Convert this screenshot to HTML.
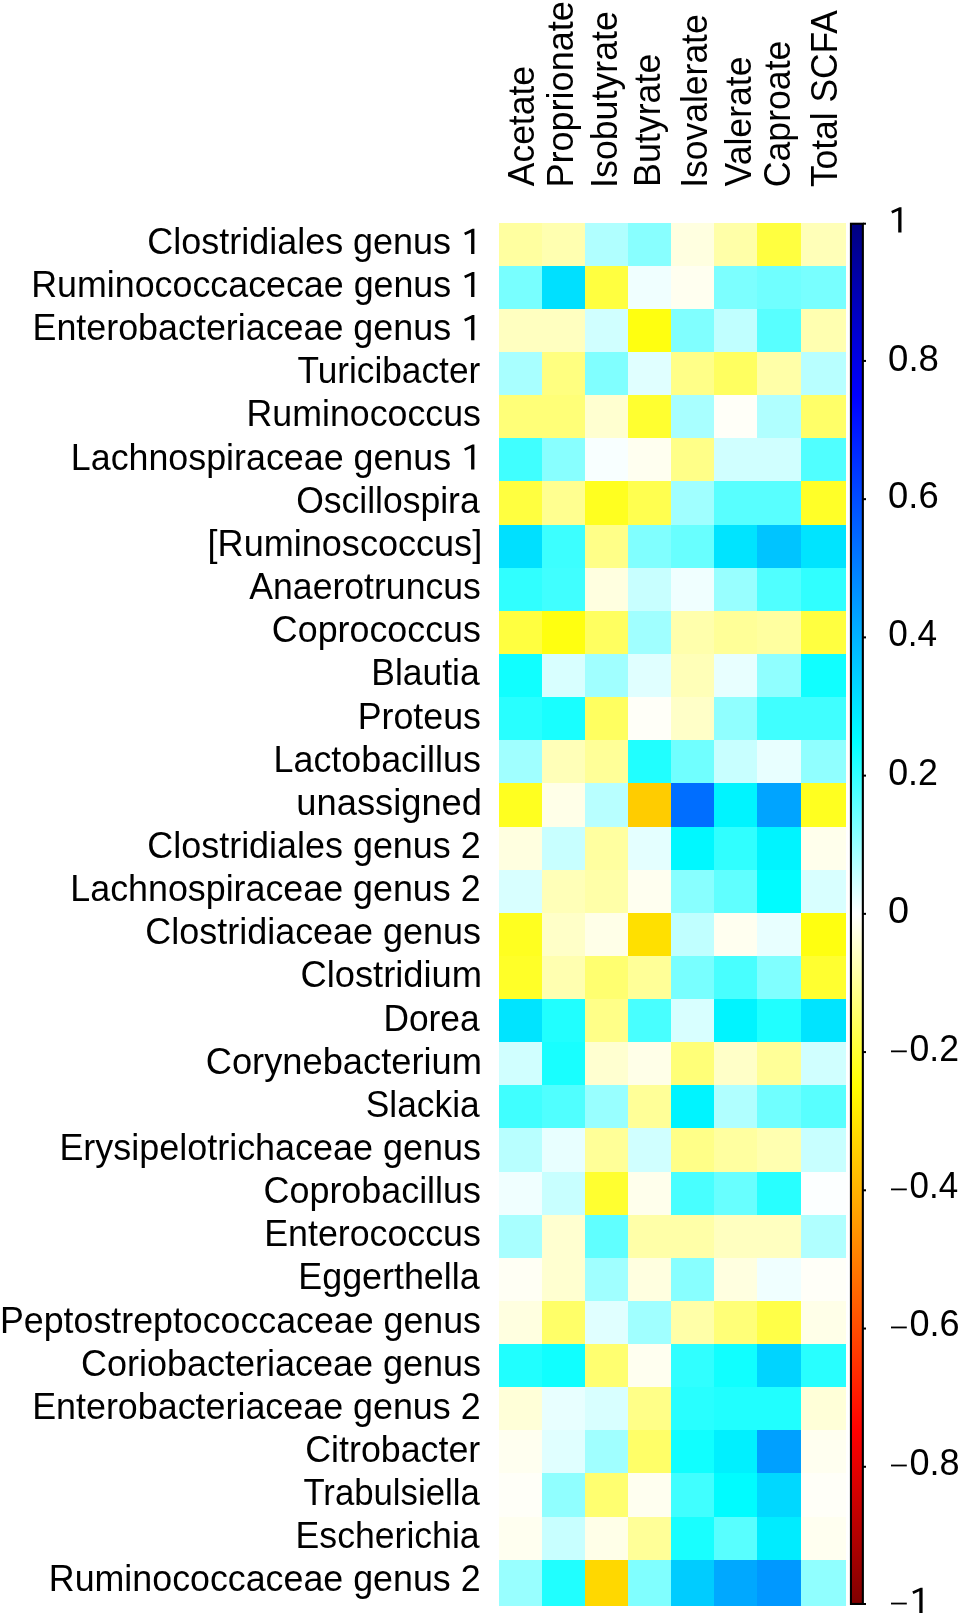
<!DOCTYPE html>
<html><head><meta charset="utf-8"><style>
html,body{margin:0;padding:0;background:#fff;}
body{width:961px;height:1617px;overflow:hidden;}
svg{display:block;will-change:transform;}
text{font-family:"Liberation Sans",sans-serif;fill:#000;}
</style></head><body>
<svg width="961" height="1617" viewBox="0 0 961 1617">
<defs><linearGradient id="cb" x1="0" y1="0" x2="0" y2="1">
<stop offset="0" stop-color="#000080"/><stop offset="0.125" stop-color="#0000FF"/>
<stop offset="0.375" stop-color="#00FFFF"/><stop offset="0.5" stop-color="#FFFFFF"/>
<stop offset="0.625" stop-color="#FFFF00"/><stop offset="0.875" stop-color="#FF0000"/>
<stop offset="1" stop-color="#800000"/></linearGradient></defs>

<g shape-rendering="crispEdges">
<rect x="498.70" y="222.70" width="43.13" height="43.13" fill="#FFFFA0"/>
<rect x="541.83" y="222.70" width="43.13" height="43.13" fill="#FFFFB0"/>
<rect x="584.96" y="222.70" width="43.13" height="43.13" fill="#B0FFFF"/>
<rect x="628.09" y="222.70" width="43.13" height="43.13" fill="#88FFFF"/>
<rect x="671.22" y="222.70" width="43.13" height="43.13" fill="#FFFFE0"/>
<rect x="714.35" y="222.70" width="43.13" height="43.13" fill="#FFFFA8"/>
<rect x="757.48" y="222.70" width="43.13" height="43.13" fill="#FFFF40"/>
<rect x="800.61" y="222.70" width="45.59" height="43.13" fill="#FFFFB8"/>
<rect x="498.70" y="265.83" width="43.13" height="43.13" fill="#78FFFF"/>
<rect x="541.83" y="265.83" width="43.13" height="43.13" fill="#00E0FF"/>
<rect x="584.96" y="265.83" width="43.13" height="43.13" fill="#FFFF40"/>
<rect x="628.09" y="265.83" width="43.13" height="43.13" fill="#F0FFFF"/>
<rect x="671.22" y="265.83" width="43.13" height="43.13" fill="#FFFFF0"/>
<rect x="714.35" y="265.83" width="43.13" height="43.13" fill="#7CFFFF"/>
<rect x="757.48" y="265.83" width="43.13" height="43.13" fill="#70FFFF"/>
<rect x="800.61" y="265.83" width="45.59" height="43.13" fill="#78FFFF"/>
<rect x="498.70" y="308.96" width="43.13" height="43.13" fill="#FFFFC0"/>
<rect x="541.83" y="308.96" width="43.13" height="43.13" fill="#FFFFC0"/>
<rect x="584.96" y="308.96" width="43.13" height="43.13" fill="#D0FFFF"/>
<rect x="628.09" y="308.96" width="43.13" height="43.13" fill="#FFFF10"/>
<rect x="671.22" y="308.96" width="43.13" height="43.13" fill="#80FFFF"/>
<rect x="714.35" y="308.96" width="43.13" height="43.13" fill="#C0FFFF"/>
<rect x="757.48" y="308.96" width="43.13" height="43.13" fill="#58FFFF"/>
<rect x="800.61" y="308.96" width="45.59" height="43.13" fill="#FFFFB0"/>
<rect x="498.70" y="352.09" width="43.13" height="43.13" fill="#A8FFFF"/>
<rect x="541.83" y="352.09" width="43.13" height="43.13" fill="#FFFF80"/>
<rect x="584.96" y="352.09" width="43.13" height="43.13" fill="#80FFFF"/>
<rect x="628.09" y="352.09" width="43.13" height="43.13" fill="#E0FFFF"/>
<rect x="671.22" y="352.09" width="43.13" height="43.13" fill="#FFFF88"/>
<rect x="714.35" y="352.09" width="43.13" height="43.13" fill="#FFFF60"/>
<rect x="757.48" y="352.09" width="43.13" height="43.13" fill="#FFFFA8"/>
<rect x="800.61" y="352.09" width="45.59" height="43.13" fill="#B8FFFF"/>
<rect x="498.70" y="395.22" width="43.13" height="43.13" fill="#FFFF78"/>
<rect x="541.83" y="395.22" width="43.13" height="43.13" fill="#FFFF78"/>
<rect x="584.96" y="395.22" width="43.13" height="43.13" fill="#FFFFD0"/>
<rect x="628.09" y="395.22" width="43.13" height="43.13" fill="#FFFF30"/>
<rect x="671.22" y="395.22" width="43.13" height="43.13" fill="#A8FFFF"/>
<rect x="714.35" y="395.22" width="43.13" height="43.13" fill="#FFFFF8"/>
<rect x="757.48" y="395.22" width="43.13" height="43.13" fill="#B0FFFF"/>
<rect x="800.61" y="395.22" width="45.59" height="43.13" fill="#FFFF68"/>
<rect x="498.70" y="438.35" width="43.13" height="43.13" fill="#40FFFF"/>
<rect x="541.83" y="438.35" width="43.13" height="43.13" fill="#88FFFF"/>
<rect x="584.96" y="438.35" width="43.13" height="43.13" fill="#F8FFFF"/>
<rect x="628.09" y="438.35" width="43.13" height="43.13" fill="#FFFFF0"/>
<rect x="671.22" y="438.35" width="43.13" height="43.13" fill="#FFFF88"/>
<rect x="714.35" y="438.35" width="43.13" height="43.13" fill="#D0FFFF"/>
<rect x="757.48" y="438.35" width="43.13" height="43.13" fill="#D0FFFF"/>
<rect x="800.61" y="438.35" width="45.59" height="43.13" fill="#50FFFF"/>
<rect x="498.70" y="481.48" width="43.13" height="43.13" fill="#FFFF40"/>
<rect x="541.83" y="481.48" width="43.13" height="43.13" fill="#FFFF90"/>
<rect x="584.96" y="481.48" width="43.13" height="43.13" fill="#FFFF20"/>
<rect x="628.09" y="481.48" width="43.13" height="43.13" fill="#FFFF50"/>
<rect x="671.22" y="481.48" width="43.13" height="43.13" fill="#A0FFFF"/>
<rect x="714.35" y="481.48" width="43.13" height="43.13" fill="#58FFFF"/>
<rect x="757.48" y="481.48" width="43.13" height="43.13" fill="#58FFFF"/>
<rect x="800.61" y="481.48" width="45.59" height="43.13" fill="#FFFF28"/>
<rect x="498.70" y="524.61" width="43.13" height="43.13" fill="#00E0FF"/>
<rect x="541.83" y="524.61" width="43.13" height="43.13" fill="#3CFFFF"/>
<rect x="584.96" y="524.61" width="43.13" height="43.13" fill="#FFFF88"/>
<rect x="628.09" y="524.61" width="43.13" height="43.13" fill="#80FFFF"/>
<rect x="671.22" y="524.61" width="43.13" height="43.13" fill="#68FFFF"/>
<rect x="714.35" y="524.61" width="43.13" height="43.13" fill="#00E4FF"/>
<rect x="757.48" y="524.61" width="43.13" height="43.13" fill="#00C4FF"/>
<rect x="800.61" y="524.61" width="45.59" height="43.13" fill="#00E4FF"/>
<rect x="498.70" y="567.74" width="43.13" height="43.13" fill="#30FFFF"/>
<rect x="541.83" y="567.74" width="43.13" height="43.13" fill="#40FFFF"/>
<rect x="584.96" y="567.74" width="43.13" height="43.13" fill="#FFFFE0"/>
<rect x="628.09" y="567.74" width="43.13" height="43.13" fill="#C8FFFF"/>
<rect x="671.22" y="567.74" width="43.13" height="43.13" fill="#F0FFFF"/>
<rect x="714.35" y="567.74" width="43.13" height="43.13" fill="#98FFFF"/>
<rect x="757.48" y="567.74" width="43.13" height="43.13" fill="#50FFFF"/>
<rect x="800.61" y="567.74" width="45.59" height="43.13" fill="#30FFFF"/>
<rect x="498.70" y="610.87" width="43.13" height="43.13" fill="#FFFF40"/>
<rect x="541.83" y="610.87" width="43.13" height="43.13" fill="#FFFF10"/>
<rect x="584.96" y="610.87" width="43.13" height="43.13" fill="#FFFF60"/>
<rect x="628.09" y="610.87" width="43.13" height="43.13" fill="#A0FFFF"/>
<rect x="671.22" y="610.87" width="43.13" height="43.13" fill="#FFFFAC"/>
<rect x="714.35" y="610.87" width="43.13" height="43.13" fill="#FFFF98"/>
<rect x="757.48" y="610.87" width="43.13" height="43.13" fill="#FFFFA0"/>
<rect x="800.61" y="610.87" width="45.59" height="43.13" fill="#FFFF40"/>
<rect x="498.70" y="654.00" width="43.13" height="43.13" fill="#10FFFF"/>
<rect x="541.83" y="654.00" width="43.13" height="43.13" fill="#D8FFFF"/>
<rect x="584.96" y="654.00" width="43.13" height="43.13" fill="#A0FFFF"/>
<rect x="628.09" y="654.00" width="43.13" height="43.13" fill="#E0FFFF"/>
<rect x="671.22" y="654.00" width="43.13" height="43.13" fill="#FFFFB8"/>
<rect x="714.35" y="654.00" width="43.13" height="43.13" fill="#E8FFFF"/>
<rect x="757.48" y="654.00" width="43.13" height="43.13" fill="#90FFFF"/>
<rect x="800.61" y="654.00" width="45.59" height="43.13" fill="#10FFFF"/>
<rect x="498.70" y="697.13" width="43.13" height="43.13" fill="#28FFFF"/>
<rect x="541.83" y="697.13" width="43.13" height="43.13" fill="#18FFFF"/>
<rect x="584.96" y="697.13" width="43.13" height="43.13" fill="#FFFF60"/>
<rect x="628.09" y="697.13" width="43.13" height="43.13" fill="#FFFFF8"/>
<rect x="671.22" y="697.13" width="43.13" height="43.13" fill="#FFFFC8"/>
<rect x="714.35" y="697.13" width="43.13" height="43.13" fill="#90FFFF"/>
<rect x="757.48" y="697.13" width="43.13" height="43.13" fill="#40FFFF"/>
<rect x="800.61" y="697.13" width="45.59" height="43.13" fill="#40FFFF"/>
<rect x="498.70" y="740.26" width="43.13" height="43.13" fill="#A0FFFF"/>
<rect x="541.83" y="740.26" width="43.13" height="43.13" fill="#FFFFB8"/>
<rect x="584.96" y="740.26" width="43.13" height="43.13" fill="#FFFF98"/>
<rect x="628.09" y="740.26" width="43.13" height="43.13" fill="#20FFFF"/>
<rect x="671.22" y="740.26" width="43.13" height="43.13" fill="#70FFFF"/>
<rect x="714.35" y="740.26" width="43.13" height="43.13" fill="#C8FFFF"/>
<rect x="757.48" y="740.26" width="43.13" height="43.13" fill="#E8FFFF"/>
<rect x="800.61" y="740.26" width="45.59" height="43.13" fill="#90FFFF"/>
<rect x="498.70" y="783.39" width="43.13" height="43.13" fill="#FFFF20"/>
<rect x="541.83" y="783.39" width="43.13" height="43.13" fill="#FFFFE8"/>
<rect x="584.96" y="783.39" width="43.13" height="43.13" fill="#B8FFFF"/>
<rect x="628.09" y="783.39" width="43.13" height="43.13" fill="#FFCC00"/>
<rect x="671.22" y="783.39" width="43.13" height="43.13" fill="#006EFF"/>
<rect x="714.35" y="783.39" width="43.13" height="43.13" fill="#00F4FF"/>
<rect x="757.48" y="783.39" width="43.13" height="43.13" fill="#00A4FF"/>
<rect x="800.61" y="783.39" width="45.59" height="43.13" fill="#FFFF20"/>
<rect x="498.70" y="826.52" width="43.13" height="43.13" fill="#FFFFE0"/>
<rect x="541.83" y="826.52" width="43.13" height="43.13" fill="#C8FFFF"/>
<rect x="584.96" y="826.52" width="43.13" height="43.13" fill="#FFFFA0"/>
<rect x="628.09" y="826.52" width="43.13" height="43.13" fill="#E4FFFF"/>
<rect x="671.22" y="826.52" width="43.13" height="43.13" fill="#00F8FF"/>
<rect x="714.35" y="826.52" width="43.13" height="43.13" fill="#30FFFF"/>
<rect x="757.48" y="826.52" width="43.13" height="43.13" fill="#00F4FF"/>
<rect x="800.61" y="826.52" width="45.59" height="43.13" fill="#FFFFEC"/>
<rect x="498.70" y="869.65" width="43.13" height="43.13" fill="#D8FFFF"/>
<rect x="541.83" y="869.65" width="43.13" height="43.13" fill="#FFFFB8"/>
<rect x="584.96" y="869.65" width="43.13" height="43.13" fill="#FFFFA8"/>
<rect x="628.09" y="869.65" width="43.13" height="43.13" fill="#FFFFF0"/>
<rect x="671.22" y="869.65" width="43.13" height="43.13" fill="#88FFFF"/>
<rect x="714.35" y="869.65" width="43.13" height="43.13" fill="#60FFFF"/>
<rect x="757.48" y="869.65" width="43.13" height="43.13" fill="#00FCFF"/>
<rect x="800.61" y="869.65" width="45.59" height="43.13" fill="#D8FFFF"/>
<rect x="498.70" y="912.78" width="43.13" height="43.13" fill="#FFFF20"/>
<rect x="541.83" y="912.78" width="43.13" height="43.13" fill="#FFFFC8"/>
<rect x="584.96" y="912.78" width="43.13" height="43.13" fill="#FFFFE8"/>
<rect x="628.09" y="912.78" width="43.13" height="43.13" fill="#FFE000"/>
<rect x="671.22" y="912.78" width="43.13" height="43.13" fill="#C0FFFF"/>
<rect x="714.35" y="912.78" width="43.13" height="43.13" fill="#FFFFF0"/>
<rect x="757.48" y="912.78" width="43.13" height="43.13" fill="#E8FFFF"/>
<rect x="800.61" y="912.78" width="45.59" height="43.13" fill="#FFFF10"/>
<rect x="498.70" y="955.91" width="43.13" height="43.13" fill="#FFFF28"/>
<rect x="541.83" y="955.91" width="43.13" height="43.13" fill="#FFFFB0"/>
<rect x="584.96" y="955.91" width="43.13" height="43.13" fill="#FFFF70"/>
<rect x="628.09" y="955.91" width="43.13" height="43.13" fill="#FFFF98"/>
<rect x="671.22" y="955.91" width="43.13" height="43.13" fill="#78FFFF"/>
<rect x="714.35" y="955.91" width="43.13" height="43.13" fill="#48FFFF"/>
<rect x="757.48" y="955.91" width="43.13" height="43.13" fill="#80FFFF"/>
<rect x="800.61" y="955.91" width="45.59" height="43.13" fill="#FFFF30"/>
<rect x="498.70" y="999.04" width="43.13" height="43.13" fill="#00E4FF"/>
<rect x="541.83" y="999.04" width="43.13" height="43.13" fill="#20FFFF"/>
<rect x="584.96" y="999.04" width="43.13" height="43.13" fill="#FFFF88"/>
<rect x="628.09" y="999.04" width="43.13" height="43.13" fill="#48FFFF"/>
<rect x="671.22" y="999.04" width="43.13" height="43.13" fill="#D8FFFF"/>
<rect x="714.35" y="999.04" width="43.13" height="43.13" fill="#00F4FF"/>
<rect x="757.48" y="999.04" width="43.13" height="43.13" fill="#20FFFF"/>
<rect x="800.61" y="999.04" width="45.59" height="43.13" fill="#00E4FF"/>
<rect x="498.70" y="1042.17" width="43.13" height="43.13" fill="#D0FFFF"/>
<rect x="541.83" y="1042.17" width="43.13" height="43.13" fill="#18FFFF"/>
<rect x="584.96" y="1042.17" width="43.13" height="43.13" fill="#FFFFD0"/>
<rect x="628.09" y="1042.17" width="43.13" height="43.13" fill="#FFFFE8"/>
<rect x="671.22" y="1042.17" width="43.13" height="43.13" fill="#FFFF78"/>
<rect x="714.35" y="1042.17" width="43.13" height="43.13" fill="#FFFFC8"/>
<rect x="757.48" y="1042.17" width="43.13" height="43.13" fill="#FFFF98"/>
<rect x="800.61" y="1042.17" width="45.59" height="43.13" fill="#D0FFFF"/>
<rect x="498.70" y="1085.30" width="43.13" height="43.13" fill="#40FFFF"/>
<rect x="541.83" y="1085.30" width="43.13" height="43.13" fill="#50FFFF"/>
<rect x="584.96" y="1085.30" width="43.13" height="43.13" fill="#98FFFF"/>
<rect x="628.09" y="1085.30" width="43.13" height="43.13" fill="#FFFF98"/>
<rect x="671.22" y="1085.30" width="43.13" height="43.13" fill="#00F4FF"/>
<rect x="714.35" y="1085.30" width="43.13" height="43.13" fill="#B0FFFF"/>
<rect x="757.48" y="1085.30" width="43.13" height="43.13" fill="#70FFFF"/>
<rect x="800.61" y="1085.30" width="45.59" height="43.13" fill="#58FFFF"/>
<rect x="498.70" y="1128.43" width="43.13" height="43.13" fill="#B8FFFF"/>
<rect x="541.83" y="1128.43" width="43.13" height="43.13" fill="#E8FFFF"/>
<rect x="584.96" y="1128.43" width="43.13" height="43.13" fill="#FFFF98"/>
<rect x="628.09" y="1128.43" width="43.13" height="43.13" fill="#D0FFFF"/>
<rect x="671.22" y="1128.43" width="43.13" height="43.13" fill="#FFFF88"/>
<rect x="714.35" y="1128.43" width="43.13" height="43.13" fill="#FFFFA0"/>
<rect x="757.48" y="1128.43" width="43.13" height="43.13" fill="#FFFFB0"/>
<rect x="800.61" y="1128.43" width="45.59" height="43.13" fill="#C8FFFF"/>
<rect x="498.70" y="1171.56" width="43.13" height="43.13" fill="#F0FFFF"/>
<rect x="541.83" y="1171.56" width="43.13" height="43.13" fill="#C8FFFF"/>
<rect x="584.96" y="1171.56" width="43.13" height="43.13" fill="#FFFF30"/>
<rect x="628.09" y="1171.56" width="43.13" height="43.13" fill="#FFFFEC"/>
<rect x="671.22" y="1171.56" width="43.13" height="43.13" fill="#48FFFF"/>
<rect x="714.35" y="1171.56" width="43.13" height="43.13" fill="#68FFFF"/>
<rect x="757.48" y="1171.56" width="43.13" height="43.13" fill="#28FFFF"/>
<rect x="800.61" y="1171.56" width="45.59" height="43.13" fill="#FCFFFF"/>
<rect x="498.70" y="1214.69" width="43.13" height="43.13" fill="#A8FFFF"/>
<rect x="541.83" y="1214.69" width="43.13" height="43.13" fill="#FFFFD0"/>
<rect x="584.96" y="1214.69" width="43.13" height="43.13" fill="#60FFFF"/>
<rect x="628.09" y="1214.69" width="43.13" height="43.13" fill="#FFFFA8"/>
<rect x="671.22" y="1214.69" width="43.13" height="43.13" fill="#FFFFA8"/>
<rect x="714.35" y="1214.69" width="43.13" height="43.13" fill="#FFFFC0"/>
<rect x="757.48" y="1214.69" width="43.13" height="43.13" fill="#FFFFC0"/>
<rect x="800.61" y="1214.69" width="45.59" height="43.13" fill="#B0FFFF"/>
<rect x="498.70" y="1257.82" width="43.13" height="43.13" fill="#FFFFF4"/>
<rect x="541.83" y="1257.82" width="43.13" height="43.13" fill="#FFFFD0"/>
<rect x="584.96" y="1257.82" width="43.13" height="43.13" fill="#A0FFFF"/>
<rect x="628.09" y="1257.82" width="43.13" height="43.13" fill="#FFFFE0"/>
<rect x="671.22" y="1257.82" width="43.13" height="43.13" fill="#88FFFF"/>
<rect x="714.35" y="1257.82" width="43.13" height="43.13" fill="#FFFFE0"/>
<rect x="757.48" y="1257.82" width="43.13" height="43.13" fill="#F0FFFF"/>
<rect x="800.61" y="1257.82" width="45.59" height="43.13" fill="#FFFFF8"/>
<rect x="498.70" y="1300.95" width="43.13" height="43.13" fill="#FFFFE0"/>
<rect x="541.83" y="1300.95" width="43.13" height="43.13" fill="#FFFF68"/>
<rect x="584.96" y="1300.95" width="43.13" height="43.13" fill="#E0FFFF"/>
<rect x="628.09" y="1300.95" width="43.13" height="43.13" fill="#A0FFFF"/>
<rect x="671.22" y="1300.95" width="43.13" height="43.13" fill="#FFFFA8"/>
<rect x="714.35" y="1300.95" width="43.13" height="43.13" fill="#FFFF78"/>
<rect x="757.48" y="1300.95" width="43.13" height="43.13" fill="#FFFF48"/>
<rect x="800.61" y="1300.95" width="45.59" height="43.13" fill="#FFFFE8"/>
<rect x="498.70" y="1344.08" width="43.13" height="43.13" fill="#20FFFF"/>
<rect x="541.83" y="1344.08" width="43.13" height="43.13" fill="#10FFFF"/>
<rect x="584.96" y="1344.08" width="43.13" height="43.13" fill="#FFFF70"/>
<rect x="628.09" y="1344.08" width="43.13" height="43.13" fill="#FFFFF0"/>
<rect x="671.22" y="1344.08" width="43.13" height="43.13" fill="#30FFFF"/>
<rect x="714.35" y="1344.08" width="43.13" height="43.13" fill="#10FFFF"/>
<rect x="757.48" y="1344.08" width="43.13" height="43.13" fill="#00D4FF"/>
<rect x="800.61" y="1344.08" width="45.59" height="43.13" fill="#28FFFF"/>
<rect x="498.70" y="1387.21" width="43.13" height="43.13" fill="#FFFFD8"/>
<rect x="541.83" y="1387.21" width="43.13" height="43.13" fill="#E8FFFF"/>
<rect x="584.96" y="1387.21" width="43.13" height="43.13" fill="#D8FFFF"/>
<rect x="628.09" y="1387.21" width="43.13" height="43.13" fill="#FFFF88"/>
<rect x="671.22" y="1387.21" width="43.13" height="43.13" fill="#28FFFF"/>
<rect x="714.35" y="1387.21" width="43.13" height="43.13" fill="#20FFFF"/>
<rect x="757.48" y="1387.21" width="43.13" height="43.13" fill="#20FFFF"/>
<rect x="800.61" y="1387.21" width="45.59" height="43.13" fill="#FFFFD8"/>
<rect x="498.70" y="1430.34" width="43.13" height="43.13" fill="#FFFFF0"/>
<rect x="541.83" y="1430.34" width="43.13" height="43.13" fill="#E0FFFF"/>
<rect x="584.96" y="1430.34" width="43.13" height="43.13" fill="#A0FFFF"/>
<rect x="628.09" y="1430.34" width="43.13" height="43.13" fill="#FFFF68"/>
<rect x="671.22" y="1430.34" width="43.13" height="43.13" fill="#10FFFF"/>
<rect x="714.35" y="1430.34" width="43.13" height="43.13" fill="#00F0FF"/>
<rect x="757.48" y="1430.34" width="43.13" height="43.13" fill="#00A0FF"/>
<rect x="800.61" y="1430.34" width="45.59" height="43.13" fill="#FFFFF0"/>
<rect x="498.70" y="1473.47" width="43.13" height="43.13" fill="#FFFFF8"/>
<rect x="541.83" y="1473.47" width="43.13" height="43.13" fill="#90FFFF"/>
<rect x="584.96" y="1473.47" width="43.13" height="43.13" fill="#FFFF70"/>
<rect x="628.09" y="1473.47" width="43.13" height="43.13" fill="#FFFFF0"/>
<rect x="671.22" y="1473.47" width="43.13" height="43.13" fill="#40FFFF"/>
<rect x="714.35" y="1473.47" width="43.13" height="43.13" fill="#00FCFF"/>
<rect x="757.48" y="1473.47" width="43.13" height="43.13" fill="#00D8FF"/>
<rect x="800.61" y="1473.47" width="45.59" height="43.13" fill="#FFFFF8"/>
<rect x="498.70" y="1516.60" width="43.13" height="43.13" fill="#FFFFF0"/>
<rect x="541.83" y="1516.60" width="43.13" height="43.13" fill="#C8FFFF"/>
<rect x="584.96" y="1516.60" width="43.13" height="43.13" fill="#FFFFE8"/>
<rect x="628.09" y="1516.60" width="43.13" height="43.13" fill="#FFFF98"/>
<rect x="671.22" y="1516.60" width="43.13" height="43.13" fill="#18FFFF"/>
<rect x="714.35" y="1516.60" width="43.13" height="43.13" fill="#58FFFF"/>
<rect x="757.48" y="1516.60" width="43.13" height="43.13" fill="#00ECFF"/>
<rect x="800.61" y="1516.60" width="45.59" height="43.13" fill="#FFFFF0"/>
<rect x="498.70" y="1559.73" width="43.13" height="45.77" fill="#98FFFF"/>
<rect x="541.83" y="1559.73" width="43.13" height="45.77" fill="#20FFFF"/>
<rect x="584.96" y="1559.73" width="43.13" height="45.77" fill="#FFD800"/>
<rect x="628.09" y="1559.73" width="43.13" height="45.77" fill="#80FFFF"/>
<rect x="671.22" y="1559.73" width="43.13" height="45.77" fill="#00CCFF"/>
<rect x="714.35" y="1559.73" width="43.13" height="45.77" fill="#00A8FF"/>
<rect x="757.48" y="1559.73" width="43.13" height="45.77" fill="#0098FF"/>
<rect x="800.61" y="1559.73" width="45.59" height="45.77" fill="#90FFFF"/>
</g>
<g font-size="37">
<text transform="translate(147.35,253.90) scale(0.9719,1)">Clostridiales genus</text>
<path d="M474.40,253.90 L474.40,228.80 L472.40,228.80 L464.10,232.70 L465.25,235.14 L471.10,232.40 L471.10,253.90 Z"/>
<text transform="translate(31.20,297.05) scale(0.9679,1)">Ruminococcacecae genus</text>
<path d="M474.40,297.05 L474.40,271.94 L472.40,271.94 L464.10,275.85 L465.25,278.29 L471.10,275.55 L471.10,297.05 Z"/>
<text transform="translate(32.49,340.19) scale(0.9694,1)">Enterobacteriaceae genus</text>
<path d="M474.40,340.19 L474.40,315.09 L472.40,315.09 L464.10,318.99 L465.25,321.43 L471.10,318.69 L471.10,340.19 Z"/>
<text transform="translate(297.44,383.34) scale(0.9528,1)">Turicibacter</text>
<text transform="translate(246.50,426.48) scale(0.9664,1)">Ruminococcus</text>
<text transform="translate(70.80,469.62) scale(0.9681,1)">Lachnospiraceae genus</text>
<path d="M474.40,469.62 L474.40,444.52 L472.40,444.52 L464.10,448.43 L465.25,450.87 L471.10,448.12 L471.10,469.62 Z"/>
<text transform="translate(296.17,512.77) scale(0.9599,1)">Oscillospira</text>
<text transform="translate(207.56,555.92) scale(0.9750,1)">[Ruminoscoccus]</text>
<text transform="translate(249.30,599.06) scale(0.9628,1)">Anaerotruncus</text>
<text transform="translate(271.86,642.21) scale(0.9685,1)">Coprococcus</text>
<text transform="translate(371.33,685.35) scale(0.9582,1)">Blautia</text>
<text transform="translate(357.70,728.50) scale(0.9667,1)">Proteus</text>
<text transform="translate(273.49,771.64) scale(0.9699,1)">Lactobacillus</text>
<text transform="translate(296.35,814.78) scale(0.9810,1)">unassigned</text>
<text transform="translate(147.36,857.93) scale(0.9709,1)">Clostridiales genus 2</text>
<text transform="translate(70.29,901.08) scale(0.9687,1)">Lachnospiraceae genus 2</text>
<text transform="translate(145.35,944.22) scale(0.9714,1)">Clostridiaceae genus</text>
<text transform="translate(300.43,987.37) scale(0.9817,1)">Clostridium</text>
<text transform="translate(383.43,1030.51) scale(0.9550,1)">Dorea</text>
<text transform="translate(205.74,1073.66) scale(0.9809,1)">Corynebacterium</text>
<text transform="translate(365.78,1116.80) scale(0.9549,1)">Slackia</text>
<text transform="translate(59.39,1159.95) scale(0.9716,1)">Erysipelotrichaceae genus</text>
<text transform="translate(263.56,1203.09) scale(0.9701,1)">Coprobacillus</text>
<text transform="translate(264.20,1246.24) scale(0.9672,1)">Enterococcus</text>
<text transform="translate(298.29,1289.38) scale(0.9691,1)">Eggerthella</text>
<text transform="translate(0.00,1332.53) scale(0.9664,1)">Peptostreptococcaceae genus</text>
<text transform="translate(80.95,1375.67) scale(0.9726,1)">Coriobacteriaceae genus</text>
<text transform="translate(32.19,1418.82) scale(0.9692,1)">Enterobacteriaceae genus 2</text>
<text transform="translate(305.26,1461.96) scale(0.9675,1)">Citrobacter</text>
<text transform="translate(303.45,1505.11) scale(0.9385,1)">Trabulsiella</text>
<text transform="translate(295.61,1548.25) scale(0.9623,1)">Escherichia</text>
<text transform="translate(48.80,1591.40) scale(0.9678,1)">Ruminococcaceae genus 2</text>
<text transform="translate(534.20,186.20) rotate(-90) scale(0.9580,1)">Acetate</text>
<text transform="translate(573.40,187.52) rotate(-90) scale(0.9743,1)">Proprionate</text>
<text transform="translate(616.60,187.88) rotate(-90) scale(0.9652,1)">Isobutyrate</text>
<text transform="translate(660.00,186.90) rotate(-90) scale(0.9669,1)">Butyrate</text>
<text transform="translate(706.50,187.76) rotate(-90) scale(0.9585,1)">Isovalerate</text>
<text transform="translate(750.50,186.49) rotate(-90) scale(0.9632,1)">Valerate</text>
<text transform="translate(789.90,187.23) rotate(-90) scale(0.9637,1)">Caproate</text>
<text transform="translate(836.70,187.06) rotate(-90) scale(0.9555,1)">Total SCFA</text>
</g>
<rect x="850.95" y="223.75" width="11.90" height="1380.20" fill="url(#cb)" stroke="#000" stroke-width="2.1"/>
<g font-size="37">
<rect x="862.9" y="222.70" width="3.1" height="2"/>
<path d="M901.50,232.40 L901.50,207.20 L899.50,207.20 L891.20,211.10 L892.35,213.54 L898.20,210.80 L898.20,232.40 Z"/>
<rect x="862.9" y="359.93" width="3.1" height="2"/>
<text transform="translate(888.12,371) scale(0.9876,1)">0.8</text>
<rect x="862.9" y="498.16" width="3.1" height="2"/>
<text transform="translate(888.12,508) scale(0.9835,1)">0.6</text>
<rect x="862.9" y="636.39" width="3.1" height="2"/>
<text transform="translate(888.17,646) scale(0.9510,1)">0.4</text>
<rect x="862.9" y="774.62" width="3.1" height="2"/>
<text transform="translate(888.15,785) scale(0.9668,1)">0.2</text>
<rect x="862.9" y="912.85" width="3.1" height="2"/>
<text transform="translate(888.07,923) scale(1.0226,1)">0</text>
<rect x="862.9" y="1051.08" width="3.1" height="2"/>
<rect x="891" y="1050.45" width="15.8" height="1.8"/>
<text transform="translate(909.45,1061) scale(0.9627,1)">0.2</text>
<rect x="862.9" y="1189.31" width="3.1" height="2"/>
<rect x="891" y="1188.50" width="15.8" height="1.8"/>
<text transform="translate(909.48,1198) scale(0.9449,1)">0.4</text>
<rect x="862.9" y="1327.54" width="3.1" height="2"/>
<rect x="891" y="1326.55" width="15.8" height="1.8"/>
<text transform="translate(909.43,1336) scale(0.9752,1)">0.6</text>
<rect x="862.9" y="1465.77" width="3.1" height="2"/>
<rect x="891" y="1464.60" width="15.8" height="1.8"/>
<text transform="translate(909.43,1475) scale(0.9752,1)">0.8</text>
<rect x="862.9" y="1603.00" width="3.1" height="2"/>
<rect x="891" y="1602.65" width="15.8" height="1.8"/>
<path d="M922.60,1612.90 L922.60,1587.70 L920.60,1587.70 L912.30,1591.60 L913.45,1594.04 L919.30,1591.30 L919.30,1612.90 Z"/>
</g>
</svg></body></html>
